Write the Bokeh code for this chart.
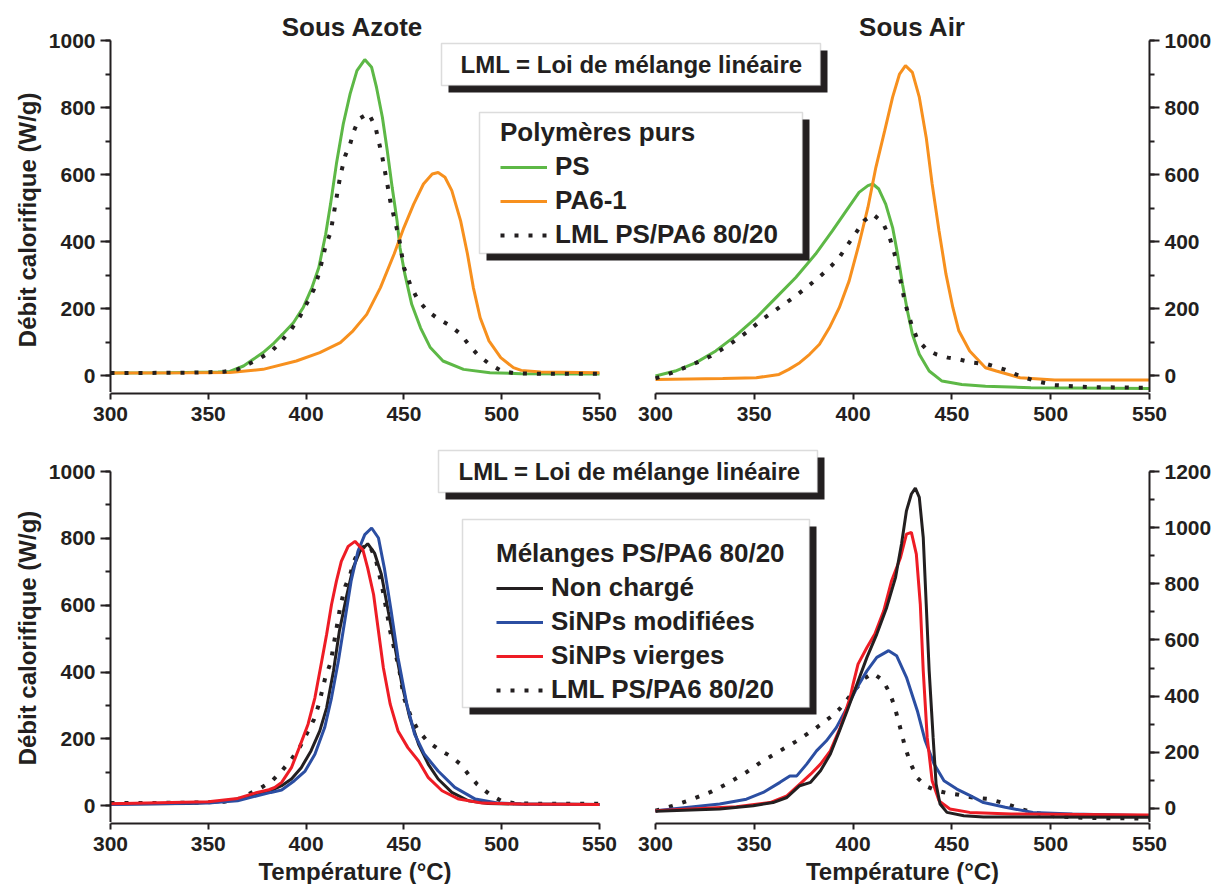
from bokeh.plotting import figure
from bokeh.models import (Range1d, LinearAxis, BoxAnnotation, Label, Legend, LegendItem,
                          SingleIntervalTicker, FixedTicker)
from bokeh.layouts import column, row
from bokeh.embed import file_html
from bokeh.resources import INLINE
from bokeh.core.validation import silence
from bokeh.core.validation.warnings import MISSING_RENDERERS

silence(MISSING_RENDERERS, True)

# ---------------- data ----------------
X_TICKS = [300, 350, 400, 450, 500, 550]

# Sous Azote - polymeres purs
N2_PS_T = [300, 330, 355, 361, 368, 373, 378, 383, 388, 393.5, 398.5, 403, 406.5, 410, 412.5, 415.5,
           419, 422.5, 426, 430, 433.5, 436, 439, 441.5, 444, 446.5, 448, 450.5, 454, 458.5, 463.5,
           470, 480.5, 494, 510, 550]
N2_PS_V = [8, 9, 11, 13, 29, 49, 69, 94, 124, 158, 203, 263, 323, 422, 512, 632,
           751, 841, 910, 943, 920, 860, 771, 671, 562, 462, 382, 303, 213, 143, 84,
           44, 19, 9, 6, 5]
N2_PA6_T = [300, 340, 361, 378, 395, 407, 417.5, 424, 431, 438, 445, 450, 455, 460, 464.5, 467.5,
            471, 474.5, 479, 482.5, 485.5, 489, 493.5, 499.5, 506, 510, 520, 550]
N2_PA6_V = [8, 9, 10, 19, 44, 69, 99, 134, 183, 263, 363, 442, 512, 572, 602, 606,
            592, 552, 462, 363, 263, 173, 104, 54, 24, 16, 11, 9]
N2_LML_T = [300, 340, 358, 365, 371, 377, 382.5, 387.5, 392.5, 397, 401, 404, 406.5, 410, 412.5,
            415, 417.5, 420, 422.5, 424.5, 427, 432, 435.5, 439, 441.5, 443, 445, 447.5, 450,
            453.5, 457, 462, 468, 474, 479, 483, 487.5, 493.5, 500, 507, 520, 550]
N2_LML_V = [8, 9, 12, 19, 36, 54, 74, 104, 139, 178, 223, 258, 303, 388, 427,
            512, 597, 656, 691, 731, 766, 783, 741, 651, 572, 522, 472, 412, 323,
            268, 228, 193, 168, 148, 124, 94, 64, 36, 14, 7, 6, 6]

# Sous Air - polymeres purs
AIR_PS_T = [300, 310, 320.5, 330.5, 340.5, 351, 361, 371, 381, 389.5, 396.5, 403, 407.5, 410, 413,
            416.5, 420, 422.5, 425, 427.5, 430, 433.5, 438.5, 445, 455, 467, 490, 550]
AIR_PS_V = [-1, 14, 39, 74, 119, 173, 233, 293, 363, 432, 492, 547, 567, 572, 557,
            512, 442, 363, 273, 193, 124, 64, 14, -16, -26, -31, -36, -38]
AIR_PA6_T = [300, 334, 351, 362.5, 367.5, 373, 378, 383, 388, 393, 398, 403, 407.5, 411.5, 416,
             420, 423.5, 426.5, 430, 433.5, 437, 440, 443.5, 447, 450.5, 453.5, 459, 467, 472.5,
             484.5, 502, 550]
AIR_PA6_V = [-11, -8, -6, 4, 19, 39, 64, 94, 143, 203, 283, 393, 502, 621, 731,
             831, 900, 925, 905, 831, 711, 572, 432, 303, 203, 134, 74, 24, 14,
             -6, -13, -13]
AIR_LML_T = [300, 308.5, 319, 328, 336.5, 346, 354, 362.5, 371, 379.5, 384.5, 389, 393, 397, 401.5,
             405.5, 410, 415, 418.5, 421, 424, 426.5, 429.5, 432.5, 437, 442, 448, 453.5, 460.5,
             468, 476.5, 484.5, 492.5, 502, 520, 550]
AIR_LML_V = [-8, 9, 34, 59, 89, 129, 168, 203, 238, 278, 303, 328, 353, 388, 427,
             462, 482, 457, 412, 363, 283, 213, 154, 109, 79, 64, 54, 49, 39,
             34, 19, -1, -16, -28, -34, -36]

# Sous Azote - melanges PS/PA6 80/20
N2_NC_T = [300, 340, 355, 365, 375, 382, 387.5, 392.5, 397.5, 402.5, 407, 410.5, 414, 417, 420.5,
           424, 427.5, 431.5, 435, 438.5, 442, 445.5, 449, 453, 457.5, 462.5, 467.5, 474.5, 483,
           493, 510, 550]
N2_NC_V = [5, 7, 12, 20, 35, 45, 60, 80, 114, 164, 224, 293, 403, 522, 622,
           711, 761, 784, 756, 692, 582, 473, 363, 264, 184, 124, 80, 40, 15,
           7, 5, 4]
N2_MOD_T = [300, 350, 365, 375, 382, 387.5, 394, 399.5, 404.5, 409.5, 413, 416.5, 420, 423, 426.5,
            430, 433.5, 437, 440, 443.5, 447, 451.5, 455.5, 460.5, 467.5, 476, 486.5, 498.5, 510, 550]
N2_MOD_V = [4, 8, 15, 30, 40, 47, 75, 104, 154, 234, 323, 433, 562, 672, 761,
            811, 831, 801, 711, 582, 443, 304, 214, 154, 104, 55, 20, 8, 5, 4]
N2_VIR_T = [300, 350, 365, 375, 381, 384, 387.5, 392.5, 396.5, 401, 404.5, 408, 410.5, 413, 415.5,
            418, 421.5, 425, 429, 431.5, 434.5, 437, 439.5, 443, 447, 452, 457.5, 462.5, 469.5,
            478, 490, 510, 550]
N2_VIR_V = [6, 12, 22, 40, 48, 55, 70, 114, 174, 244, 323, 433, 513, 602, 672,
            731, 776, 791, 766, 711, 632, 522, 413, 304, 224, 174, 134, 84, 45,
            20, 8, 5, 4]

# Sous Air - melanges PS/PA6 80/20
AIR_NC_T = [300, 332.5, 349.5, 359.5, 366.5, 373, 378.5, 383.5, 388.5, 392.5, 397, 402, 407, 412,
            417, 421.5, 424.5, 427, 429.5, 431.5, 433.5, 435.5, 437, 438.5, 440.5, 442, 444, 447.5,
            456, 466, 550]
AIR_NC_V = [-10, -2, 10, 21, 39, 81, 93, 134, 194, 265, 348, 443, 538, 621,
            716, 823, 942, 1060, 1120, 1141, 1108, 965, 728, 490, 253, 87, 16, -14,
            -26, -30, -31]
AIR_VIR_T = [300, 341, 358, 366.5, 373, 378.5, 383.5, 388.5, 393.5, 398.5, 400, 402.5, 407, 411,
             415.5, 419.5, 424, 427, 429.5, 432, 434, 435.5, 437.5, 440, 443.5, 449, 459, 480, 550]
AIR_VIR_V = [-8, 6, 21, 45, 87, 122, 158, 205, 288, 395, 443, 514, 573, 621,
             704, 811, 894, 977, 983, 906, 728, 490, 253, 99, 27, -2, -14, -20, -23]
AIR_MOD_T = [300, 332.5, 346, 354.5, 363, 368, 371.5, 376.5, 381.5, 386.5, 391.5, 397, 402, 407,
             412, 418, 422, 427, 432.5, 436.5, 441, 446, 452.5, 459.5, 466, 477, 491, 511, 550]
AIR_MOD_V = [-8, 16, 33, 57, 93, 116, 116, 158, 205, 241, 288, 360, 431, 490,
             538, 562, 544, 467, 348, 241, 158, 99, 69, 45, 21, 4, -14, -20, -26]

# ---------------- style ----------------
FONT = "Liberation Sans"
INK = "#231F20"
C_PS = "#5DB846"
C_PA6 = "#F7901E"
C_NC = "#231F20"
C_MOD = "#2B4EA2"
C_VIR = "#EE1C25"

LEFT_W, GAP, RIGHT_W = 489, 56, 494
FRAME_W = LEFT_W + GAP + RIGHT_W
ML, MR = 110, 62
Y_MIN = -50
Y_LABEL = "Débit calorifique (W/g)"
NBSP = "\u00a0"


def style_axis(ax, tick_out, minor_out, standoff):
    ax.axis_line_width = 2
    ax.axis_line_color = INK
    ax.major_tick_line_width = 2
    ax.major_tick_line_color = INK
    ax.minor_tick_line_width = 2
    ax.minor_tick_line_color = INK
    ax.major_tick_in = 0
    ax.major_tick_out = tick_out
    ax.minor_tick_in = 0
    ax.minor_tick_out = minor_out
    ax.major_label_text_font = FONT
    ax.major_label_text_font_size = "21px"
    ax.major_label_text_font_style = "bold"
    ax.major_label_text_color = INK
    ax.major_label_standoff = standoff


def panel_row(head, data_h, y_left_max, y_right_max, label_pad):
    # the frame also covers some head room above the data area (titles, boxed notes);
    # the y axes are bounded to the data area
    frame_h = head + data_h
    left_end = y_left_max + head * (y_left_max - Y_MIN) / data_h
    right_end = y_right_max + head * (y_right_max - Y_MIN) / data_h
    p = figure(frame_width=FRAME_W, frame_height=frame_h,
               x_range=Range1d(300, 300 + 250 * FRAME_W / LEFT_W),
               y_range=Range1d(Y_MIN, left_end),
               min_border_left=ML, min_border_right=MR,
               min_border_top=0, min_border_bottom=0,
               x_axis_location=None, toolbar_location=None, output_backend="svg",
               outline_line_color=None, background_fill_color="white", border_fill_color="white")
    p.extra_x_ranges = {"air": Range1d(300 - 250 * (LEFT_W + GAP) / RIGHT_W, 550)}
    p.extra_y_ranges = {"air": Range1d(Y_MIN, right_end)}
    p.grid.visible = False
    ya = p.yaxis[0]
    ya.ticker = SingleIntervalTicker(interval=200, num_minor_ticks=2)
    ya.bounds = (Y_MIN, y_left_max)
    style_axis(ya, 10, 5, 5)
    # trailing no-break spaces keep the label centred on the data area, not on the head room
    ya.axis_label = Y_LABEL + NBSP * label_pad
    ya.axis_label_text_font = FONT
    ya.axis_label_text_font_size = "24px"
    ya.axis_label_text_font_style = "bold"
    ya.axis_label_text_color = INK
    ya.axis_label_standoff = 5
    ra = LinearAxis(y_range_name="air", bounds=(Y_MIN, y_right_max),
                    ticker=SingleIntervalTicker(interval=200, num_minor_ticks=2))
    style_axis(ra, 10, 5, 5)
    p.add_layout(ra, "right")
    return p


def boxed(p, l, r, t, b, off=7):
    p.add_layout(BoxAnnotation(left=l + off, right=r + off, top=t - off, bottom=b - off,
                               left_units="screen", right_units="screen",
                               top_units="screen", bottom_units="screen",
                               fill_color=INK, fill_alpha=1, line_color=None))
    p.add_layout(BoxAnnotation(left=l, right=r, top=t, bottom=b,
                               left_units="screen", right_units="screen",
                               top_units="screen", bottom_units="screen",
                               fill_color="white", fill_alpha=1,
                               line_color="#8a8a8a", line_width=1.5))


def text(p, x, y, s, size, align="left"):
    p.add_layout(Label(x=x, y=y, x_units="screen", y_units="screen", text=s,
                       text_font=FONT, text_font_size=size, text_font_style="bold",
                       text_color=INK, text_align=align, text_baseline="middle"))


def legend(p, items, title, x, y):
    lg = Legend(items=items, title=title, location=(x, y), orientation="vertical",
                padding=0, margin=0, spacing=3, title_standoff=3,
                glyph_width=47, glyph_height=30, label_height=30, label_standoff=8,
                border_line_alpha=0, background_fill_alpha=0,
                label_text_font=FONT, label_text_font_size="26px", label_text_font_style="bold",
                label_text_color=INK,
                title_text_font=FONT, title_text_font_size="26px", title_text_font_style="bold",
                title_text_color=INK)
    p.add_layout(lg, "center")


def strip(ml, fw, mr, bottom, label=None):
    s = figure(frame_width=fw, frame_height=1, x_range=Range1d(300, 550), y_range=Range1d(0, 1),
               min_border_left=ml, min_border_right=mr, min_border_top=0, min_border_bottom=bottom,
               y_axis_location=None, toolbar_location=None, output_backend="svg",
               outline_line_color=None, border_fill_color="white", background_fill_color="white")
    s.grid.visible = False
    ax = s.xaxis[0]
    ax.ticker = FixedTicker(ticks=X_TICKS, minor_ticks=[])
    style_axis(ax, 6, 0, 7)
    if label:
        ax.axis_label = label
        ax.axis_label_text_font = FONT
        ax.axis_label_text_font_size = "24px"
        ax.axis_label_text_font_style = "bold"
        ax.axis_label_text_color = INK
        ax.axis_label_standoff = 4
    return s


DOT = dict(line_dash="4 10", line_width=4, line_cap="butt", color=INK)

# ---------------- top row ----------------
top = panel_row(40, 352, 1000, 1000, 7)
boxed(top, 331, 710, 349, 307)
text(top, 350, 328, "LML = Loi de mélange linéaire", "24px")
boxed(top, 369, 692, 280, 139)
text(top, 242, 366, "Sous Azote", "26px", "center")
text(top, 802, 366, "Sous Air", "26px", "center")

r_ps = top.line(N2_PS_T, N2_PS_V, color=C_PS, line_width=3)
r_pa = top.line(N2_PA6_T, N2_PA6_V, color=C_PA6, line_width=3)
r_lml = top.line(N2_LML_T, N2_LML_V, **DOT)
top.line(AIR_PS_T, AIR_PS_V, color=C_PS, line_width=3, x_range_name="air", y_range_name="air")
top.line(AIR_PA6_T, AIR_PA6_V, color=C_PA6, line_width=3, x_range_name="air", y_range_name="air")
top.line(AIR_LML_T, AIR_LML_V, x_range_name="air", y_range_name="air", **DOT)

legend(top, [LegendItem(label="PS", renderers=[r_ps]),
             LegendItem(label="PA6-1", renderers=[r_pa]),
             LegendItem(label="LML PS/PA6 80/20", renderers=[r_lml])],
       "Polymères purs", 390, 142)

top_strips = row(strip(ML, LEFT_W, GAP // 2 - 8, 40), strip(GAP // 2 + 8, RIGHT_W, MR, 40))

# ---------------- bottom row ----------------
bot = panel_row(38, 351, 1000, 1200, 3)
boxed(bot, 328, 707, 372, 330)
text(bot, 348, 351, "LML = Loi de mélange linéaire", "24px")
boxed(bot, 352, 699, 303, 115)

b_lml = bot.line(N2_LML_T, N2_LML_V, **DOT)
b_nc = bot.line(N2_NC_T, N2_NC_V, color=C_NC, line_width=3)
b_mod = bot.line(N2_MOD_T, N2_MOD_V, color=C_MOD, line_width=3)
b_vir = bot.line(N2_VIR_T, N2_VIR_V, color=C_VIR, line_width=3)
bot.line(AIR_LML_T, AIR_LML_V, x_range_name="air", y_range_name="air", **DOT)
bot.line(AIR_MOD_T, AIR_MOD_V, color=C_MOD, line_width=3, x_range_name="air", y_range_name="air")
bot.line(AIR_VIR_T, AIR_VIR_V, color=C_VIR, line_width=3, x_range_name="air", y_range_name="air")
bot.line(AIR_NC_T, AIR_NC_V, color=C_NC, line_width=3, x_range_name="air", y_range_name="air")

legend(bot, [LegendItem(label="Non chargé", renderers=[b_nc]),
             LegendItem(label="SiNPs modifiées", renderers=[b_mod]),
             LegendItem(label="SiNPs vierges", renderers=[b_vir]),
             LegendItem(label="LML PS/PA6 80/20", renderers=[b_lml])],
       "Mélanges PS/PA6 80/20", 386, 117)

bot_strips = row(strip(ML, LEFT_W, GAP // 2 - 8, 60, "Température (°C)"),
                 strip(GAP // 2 + 8, RIGHT_W, MR, 60, "Température (°C)"))

layout = column(top, top_strips, bot, bot_strips)

open("out.html", "w").write(file_html(layout, INLINE))
